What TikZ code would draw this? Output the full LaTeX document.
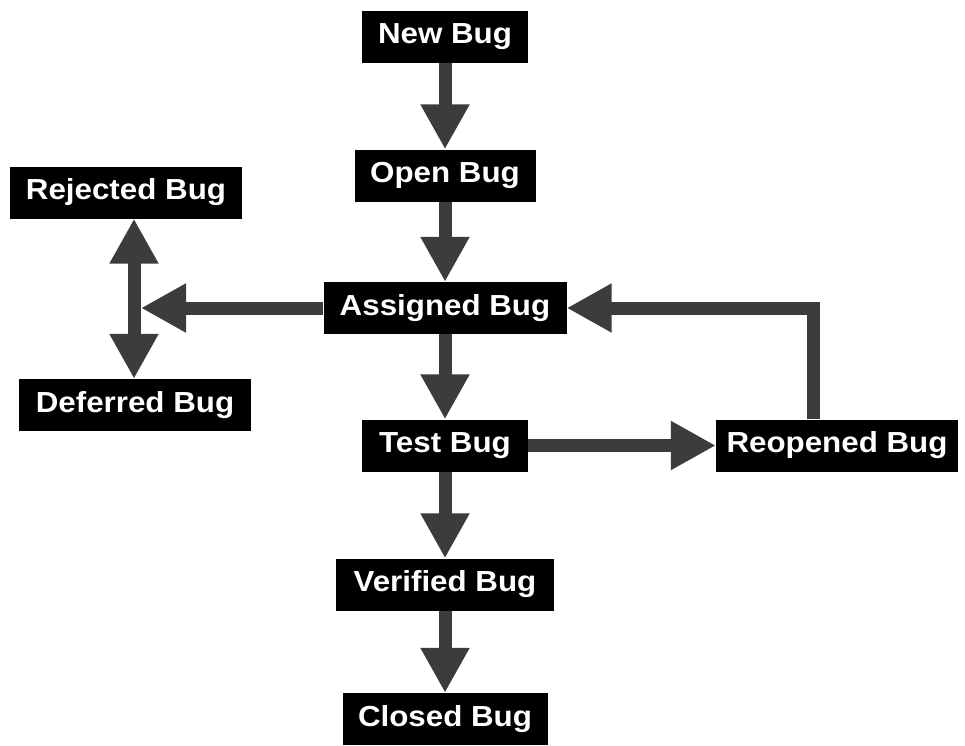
\documentclass[tikz,border=0pt]{standalone}
\usepackage{fontspec}
\newfontfamily\boxfont[FakeStretch=1.08]{Liberation Sans}
\usetikzlibrary{arrows.meta}
\definecolor{arrowgray}{HTML}{3C3C3C}

\begin{document}
\begin{tikzpicture}[x=1pt, y=-1pt, >={Triangle[width=46pt, length=45pt]},
    bugstate/.style={fill=black, text=white, inner sep=0pt, minimum height=52pt,
      font=\boxfont\bfseries\fontsize{29}{29}\selectfont},
    flow/.style={->, line width=13pt, draw=arrowgray, line join=miter}]
				\useasboundingbox (0, 0) rectangle (965, 745);
				\node[bugstate, minimum width=166pt] (new) at (445, 36.5) {New Bug};
				\node[bugstate, minimum width=181pt] (open) at (445, 175.5) {Open Bug};
				\node[bugstate, minimum width=232pt] (rejected) at (126, 192.5) {Rejected Bug};
				\node[bugstate, minimum width=243pt] (assigned) at (445, 308) {Assigned Bug};
				\node[bugstate, minimum width=232pt] (deferred) at (135, 405) {Deferred Bug};
				\node[bugstate, minimum width=166pt] (test) at (445, 445.5) {Test Bug};
				\node[bugstate, minimum width=242pt] (reopened) at (837, 445.5) {Reopened Bug};
				\node[bugstate, minimum width=218pt] (verified) at (445, 584.5) {Verified Bug};
				\node[bugstate, minimum width=205pt] (closed) at (445, 719) {Closed Bug};
				\coordinate (split) at (134, 308);
				
				\draw[flow] (new) -- (open);
				\draw[flow] (open) -- (assigned);
				\draw[flow] (assigned) -- (test);
				\draw[flow] (test) -- (verified);
				\draw[flow] (verified) -- (closed);
				\draw[flow] (test) -- (reopened);
				\draw[flow] ([xshift=-24pt]reopened.north) |- (assigned.east);
				\draw[flow, shorten >=7pt] (assigned.west) -- (split);
				\draw[flow, <->] (split |- rejected.south) -- (split |- deferred.north);
			\end{tikzpicture}
\end{document}
